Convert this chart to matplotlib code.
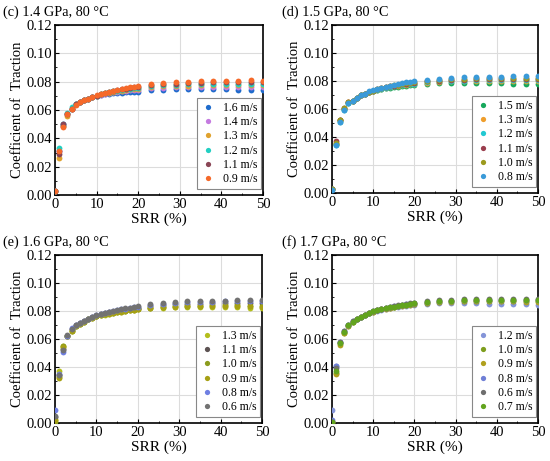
import matplotlib.pyplot as plt
from matplotlib.ticker import MultipleLocator

plt.rcParams['font.family'] = ['Liberation Serif', 'DejaVu Serif']

# SRR points (%)
srr = [0, 1, 2, 3, 4, 5, 6, 7, 8, 9, 10, 11, 12, 13, 14, 15, 16, 17, 18, 19, 20,
       23, 26, 29, 32, 35, 38, 41, 44, 47, 50]

# (c) 1.4 GPa
c_labels = ['1.6 m/s', '1.4 m/s', '1.3 m/s', '1.2 m/s', '1.1 m/s', '0.9 m/s']
c_colors = ['#1f6ccc', '#c47ae0', '#e0a22e', '#22cfc2', '#8a4656', '#f5692a']
c_16 = [0.003, 0.031, 0.049, 0.057, 0.061, 0.064, 0.0655, 0.067, 0.068, 0.069, 0.0698, 0.0705,
        0.0710, 0.0714, 0.0718, 0.0721, 0.0723, 0.0725, 0.0727, 0.0729, 0.0730,
        0.0738, 0.0742, 0.0745, 0.0746, 0.0747, 0.0747, 0.0746, 0.0744, 0.0740, 0.0738]
c_14 = [0.003, 0.031, 0.050, 0.057, 0.061, 0.064, 0.0655, 0.067, 0.068, 0.069, 0.0700, 0.0708,
        0.0715, 0.0720, 0.0725, 0.0729, 0.0733, 0.0736, 0.0739, 0.0742, 0.0744,
        0.0752, 0.0757, 0.0760, 0.0762, 0.0763, 0.0764, 0.0764, 0.0763, 0.0762, 0.0760]
c_13 = [0.003, 0.026, 0.049, 0.056, 0.061, 0.064, 0.0655, 0.067, 0.068, 0.069, 0.0700, 0.0710,
        0.0717, 0.0723, 0.0728, 0.0733, 0.0737, 0.0741, 0.0745, 0.0748, 0.0751,
        0.0760, 0.0766, 0.0770, 0.0772, 0.0774, 0.0775, 0.0775, 0.0775, 0.0774, 0.0773]
c_12 = [0.003, 0.033, 0.050, 0.058, 0.062, 0.064, 0.0658, 0.067, 0.068, 0.069, 0.0702, 0.0712,
        0.0719, 0.0726, 0.0732, 0.0737, 0.0742, 0.0746, 0.0750, 0.0754, 0.0757,
        0.0767, 0.0773, 0.0777, 0.0780, 0.0782, 0.0783, 0.0784, 0.0784, 0.0784, 0.0783]
c_11 = [0.003, 0.029, 0.050, 0.057, 0.061, 0.064, 0.0655, 0.067, 0.068, 0.069, 0.0702, 0.0713,
        0.0720, 0.0728, 0.0734, 0.0740, 0.0746, 0.0751, 0.0755, 0.0759, 0.0762,
        0.0773, 0.0781, 0.0786, 0.0790, 0.0793, 0.0795, 0.0796, 0.0797, 0.0797, 0.0796]
c_09 = [0.003, 0.031, 0.048, 0.057, 0.061, 0.0635, 0.0655, 0.067, 0.068, 0.069, 0.0703, 0.0714,
        0.0722, 0.0730, 0.0737, 0.0744, 0.0750, 0.0755, 0.0760, 0.0764, 0.0768,
        0.0780, 0.0790, 0.0796, 0.0800, 0.0803, 0.0805, 0.0806, 0.0808, 0.0810, 0.0808]

# (d) 1.5 GPa
d_labels = ['1.5 m/s', '1.3 m/s', '1.2 m/s', '1.1 m/s', '1.0 m/s', '0.8 m/s']
d_colors = ['#17a85c', '#ef9e2c', '#22c9d2', '#9a3e4e', '#9c9a1e', '#3a9ad8']
d_15 = [0.003, 0.035, 0.052, 0.060, 0.064, 0.066, 0.068, 0.070, 0.071, 0.072, 0.0728, 0.0735,
        0.0742, 0.0748, 0.0752, 0.0756, 0.0760, 0.0763, 0.0766, 0.0769, 0.0772,
        0.0780, 0.0784, 0.0787, 0.0788, 0.0788, 0.0787, 0.0784, 0.0781, 0.0779, 0.0776]
d_13 = [0.003, 0.035, 0.052, 0.060, 0.065, 0.066, 0.068, 0.070, 0.071, 0.072, 0.0730, 0.0738,
        0.0745, 0.0751, 0.0756, 0.0761, 0.0765, 0.0769, 0.0773, 0.0776, 0.0779,
        0.0788, 0.0793, 0.0797, 0.0799, 0.0800, 0.0801, 0.0801, 0.0800, 0.0800, 0.0799]
d_12 = [0.003, 0.034, 0.051, 0.059, 0.064, 0.066, 0.068, 0.070, 0.071, 0.072, 0.0731, 0.0739,
        0.0746, 0.0752, 0.0758, 0.0763, 0.0768, 0.0772, 0.0776, 0.0779, 0.0782,
        0.0791, 0.0797, 0.0801, 0.0803, 0.0805, 0.0806, 0.0806, 0.0806, 0.0805, 0.0804]
d_11 = [0.003, 0.037, 0.052, 0.061, 0.065, 0.066, 0.068, 0.070, 0.071, 0.072, 0.0731, 0.0740,
        0.0748, 0.0755, 0.0761, 0.0767, 0.0772, 0.0776, 0.0780, 0.0784, 0.0787,
        0.0797, 0.0803, 0.0807, 0.0810, 0.0812, 0.0813, 0.0813, 0.0813, 0.0812, 0.0811]
d_10 = [0.003, 0.036, 0.052, 0.061, 0.065, 0.066, 0.068, 0.070, 0.071, 0.072, 0.0732, 0.0741,
        0.0749, 0.0756, 0.0763, 0.0769, 0.0774, 0.0779, 0.0784, 0.0788, 0.0791,
        0.0802, 0.0809, 0.0813, 0.0816, 0.0818, 0.0819, 0.0820, 0.0820, 0.0820, 0.0819]
d_08 = [0.002, 0.034, 0.051, 0.059, 0.064, 0.066, 0.068, 0.070, 0.071, 0.0725, 0.0733, 0.0743,
        0.0752, 0.0760, 0.0767, 0.0774, 0.0780, 0.0785, 0.0790, 0.0794, 0.0798,
        0.0808, 0.0816, 0.0822, 0.0826, 0.0829, 0.0831, 0.0832, 0.0833, 0.0834, 0.0834]

# (e) 1.6 GPa
e_labels = ['1.3 m/s', '1.1 m/s', '1.0 m/s', '0.9 m/s', '0.8 m/s', '0.6 m/s']
e_colors = ['#b4be1c', '#5c5252', '#8c9c1e', '#a6a014', '#6f7fe2', '#727272']
e_13 = [0.002, 0.037, 0.055, 0.062, 0.066, 0.0695, 0.071, 0.0725, 0.074, 0.0752, 0.0762, 0.0770,
        0.0775, 0.0780, 0.0785, 0.0790, 0.0795, 0.0800, 0.0804, 0.0808, 0.0812,
        0.0820, 0.0825, 0.0828, 0.0830, 0.0830, 0.0830, 0.0829, 0.0827, 0.0825, 0.0822]
e_11 = [0.004, 0.034, 0.053, 0.062, 0.067, 0.0698, 0.0715, 0.073, 0.0745, 0.0757, 0.0767, 0.0776,
        0.0783, 0.0790, 0.0796, 0.0802, 0.0807, 0.0812, 0.0817, 0.0821, 0.0825,
        0.0836, 0.0843, 0.0848, 0.0851, 0.0853, 0.0855, 0.0856, 0.0856, 0.0856, 0.0855]
e_10 = [0.001, 0.033, 0.055, 0.062, 0.066, 0.0695, 0.071, 0.0725, 0.074, 0.0753, 0.0763, 0.0771,
        0.0777, 0.0783, 0.0788, 0.0793, 0.0798, 0.0802, 0.0806, 0.0810, 0.0814,
        0.0824, 0.0830, 0.0834, 0.0837, 0.0839, 0.0840, 0.0840, 0.0840, 0.0839, 0.0838]
e_09 = [0.002, 0.032, 0.054, 0.062, 0.066, 0.0695, 0.071, 0.0725, 0.074, 0.0752, 0.0762, 0.0771,
        0.0776, 0.0782, 0.0787, 0.0792, 0.0796, 0.0800, 0.0804, 0.0808, 0.0811,
        0.0821, 0.0827, 0.0831, 0.0833, 0.0834, 0.0835, 0.0835, 0.0834, 0.0833, 0.0832]
e_08 = [0.009, 0.035, 0.051, 0.062, 0.068, 0.0700, 0.0715, 0.073, 0.0745, 0.0758, 0.0768, 0.0778,
        0.0785, 0.0792, 0.0798, 0.0805, 0.0811, 0.0816, 0.0821, 0.0826, 0.0830,
        0.0843, 0.0852, 0.0858, 0.0862, 0.0865, 0.0867, 0.0868, 0.0869, 0.0869, 0.0868]
e_06 = [0.005, 0.034, 0.052, 0.063, 0.067, 0.0700, 0.0715, 0.073, 0.0745, 0.0758, 0.0769, 0.0779,
        0.0786, 0.0793, 0.0800, 0.0807, 0.0813, 0.0819, 0.0824, 0.0829, 0.0833,
        0.0847, 0.0857, 0.0864, 0.0869, 0.0872, 0.0874, 0.0875, 0.0876, 0.0877, 0.0876]

# (f) 1.7 GPa
f_labels = ['1.2 m/s', '1.0 m/s', '0.9 m/s', '0.8 m/s', '0.6 m/s', '0.7 m/s']
f_colors = ['#8494d8', '#7e9e1e', '#b0a01e', '#6f7fd6', '#6e6e6e', '#62a41e']
f_12 = [0.009, 0.041, 0.057, 0.065, 0.070, 0.0725, 0.0742, 0.0757, 0.0771, 0.0784, 0.0794, 0.0803,
        0.0810, 0.0816, 0.0822, 0.0827, 0.0831, 0.0835, 0.0839, 0.0842, 0.0845,
        0.0852, 0.0855, 0.0856, 0.0856, 0.0855, 0.0853, 0.0851, 0.0849, 0.0847, 0.0845]
f_10 = [0.001, 0.036, 0.057, 0.064, 0.069, 0.0723, 0.0742, 0.0757, 0.0772, 0.0785, 0.0796, 0.0805,
        0.0812, 0.0818, 0.0824, 0.0830, 0.0835, 0.0840, 0.0844, 0.0848, 0.0852,
        0.0860, 0.0866, 0.0870, 0.0872, 0.0874, 0.0874, 0.0874, 0.0873, 0.0872, 0.0871]
f_09 = [0.001, 0.035, 0.056, 0.064, 0.069, 0.0722, 0.0741, 0.0756, 0.0771, 0.0784, 0.0795, 0.0804,
        0.0811, 0.0817, 0.0823, 0.0829, 0.0834, 0.0838, 0.0842, 0.0846, 0.0849,
        0.0858, 0.0863, 0.0866, 0.0868, 0.0869, 0.0869, 0.0869, 0.0868, 0.0867, 0.0866]
f_08 = [0.002, 0.041, 0.058, 0.066, 0.070, 0.0726, 0.0744, 0.0759, 0.0773, 0.0786, 0.0797, 0.0806,
        0.0814, 0.0821, 0.0827, 0.0833, 0.0838, 0.0843, 0.0847, 0.0851, 0.0855,
        0.0865, 0.0871, 0.0875, 0.0878, 0.0880, 0.0881, 0.0882, 0.0882, 0.0882, 0.0881]
f_06 = [0.001, 0.039, 0.058, 0.066, 0.070, 0.0726, 0.0745, 0.0760, 0.0774, 0.0787, 0.0798, 0.0807,
        0.0815, 0.0822, 0.0829, 0.0835, 0.0840, 0.0845, 0.0850, 0.0854, 0.0858,
        0.0869, 0.0876, 0.0881, 0.0884, 0.0886, 0.0888, 0.0889, 0.0889, 0.0889, 0.0888]
f_07 = [0.001, 0.037, 0.057, 0.065, 0.070, 0.0724, 0.0743, 0.0758, 0.0772, 0.0786, 0.0797, 0.0806,
        0.0813, 0.0820, 0.0826, 0.0832, 0.0837, 0.0842, 0.0846, 0.0850, 0.0854,
        0.0863, 0.0869, 0.0873, 0.0876, 0.0877, 0.0878, 0.0878, 0.0878, 0.0877, 0.0876]

panels = [
    ('(c) 1.4 GPa, 80 °C', c_labels, c_colors, [c_16, c_14, c_13, c_12, c_11, c_09]),
    ('(d) 1.5 GPa, 80 °C', d_labels, d_colors, [d_15, d_13, d_12, d_11, d_10, d_08]),
    ('(e) 1.6 GPa, 80 °C', e_labels, e_colors, [e_13, e_11, e_10, e_09, e_08, e_06]),
    ('(f) 1.7 GPa, 80 °C', f_labels, f_colors, [f_12, f_10, f_09, f_08, f_06, f_07]),
]

fig = plt.figure(figsize=(5.5, 4.61), dpi=100)
W, H = 550, 461
boxes = [(55, 25, 208, 170), (332, 25, 206, 168), (55, 255, 207, 168), (332, 255, 206, 168)]
title_pos = [(3, 12), (282, 12), (3, 242), (282, 242)]

for (title, labels, colors, series), (x0, y0, w, h), (tx, ty) in zip(panels, boxes, title_pos):
    ax = fig.add_axes([x0 / W, 1 - (y0 + h) / H, w / W, h / H])
    for vals, col, lab in zip(series, colors, labels):
        ax.plot(srr, vals, 'o', ms=4.2, color=col, mec='none', label=lab, zorder=3)
    ax.set_xlim(0, 50)
    ax.set_ylim(0, 0.12)
    ax.xaxis.set_major_locator(MultipleLocator(10))
    ax.yaxis.set_major_locator(MultipleLocator(0.02))
    ax.xaxis.set_minor_locator(MultipleLocator(5))
    ax.yaxis.set_minor_locator(MultipleLocator(0.01))
    ax.yaxis.set_major_formatter(plt.FuncFormatter(lambda v, p: f'{v:.2f}'))
    ax.grid(True, which='major', color='#dcdcdc', lw=0.8, zorder=0)
    ax.tick_params(which='both', direction='in', labelsize=10.5, top=False, right=False, pad=2)
    ax.tick_params(which='major', length=3)
    ax.tick_params(which='minor', length=1.5)
    for s in ax.spines.values():
        s.set_linewidth(1.2)
    ax.set_xlabel('SRR (%)', fontsize=11, labelpad=1)
    ax.set_ylabel('Coefficient of  Traction', fontsize=10.5, labelpad=2)
    fig.text(tx / W, 1 - ty / H, title, fontsize=10.3, ha='left', va='center')
    leg = ax.legend(loc='lower right', bbox_to_anchor=(1, 0.025), fontsize=8.5,
                    frameon=True, fancybox=False, edgecolor='#888888', framealpha=1,
                    borderaxespad=0.15, handletextpad=0.6, labelspacing=0.2,
                    borderpad=0.3, handlelength=1.3, markerscale=0.9)
    leg.get_frame().set_linewidth(0.8)

fig.savefig('out.png', dpi=100)
